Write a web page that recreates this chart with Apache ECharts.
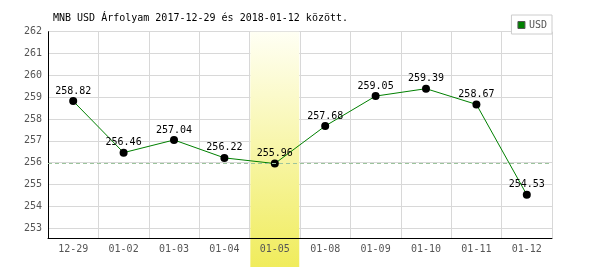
<!DOCTYPE html>
<html><head><meta charset="utf-8">
<script src="https://cdn.jsdelivr.net/npm/echarts@6/dist/echarts.min.js"></script>
<style>html,body{margin:0;padding:0;background:#fff}#c{width:600px;height:270px}</style>
</head><body><div id="c"></div>
<script>
const titleText = 'MNB USD Árfolyam 2017-12-29 és 2018-01-12 között.';
const seriesName = 'USD';
const categories = ['12-29','01-02','01-03','01-04','01-05','01-08','01-09','01-10','01-11','01-12'];
const rates = [258.82, 256.46, 257.04, 256.22, 255.96, 257.68, 259.05, 259.39, 258.67, 254.53];
const highlightDay = '01-05';
const yMin = 252.55, yMax = 262;

const mono = 'DejaVu Sans Mono';
const highlightIdx = categories.indexOf(highlightDay);
const bandData = categories.map(c => c === highlightDay ? 1 : null);

const chart = echarts.init(document.getElementById('c'), null, {renderer:'canvas'});
chart.setOption({
  animation: false,
  backgroundColor: '#fff',
  title: { text: titleText, left: 48, top: 8, textStyle: { fontFamily: mono, fontSize: 10, fontWeight: 'normal', color: '#000' } },
  legend: {
    data: [seriesName], right: 48, top: 15, icon: 'rect', itemWidth: 7, itemHeight: 7, itemGap: 4,
    backgroundColor: '#fff', borderColor: '#ccc', borderWidth: 1, padding: [5, 5, 4, 6],
    itemStyle: { color: '#008000', borderColor: '#555', borderWidth: 1 },
    textStyle: { fontFamily: mono, fontSize: 10, color: '#555', padding: [0,0,0,-1] }
  },
  grid: [
    { left: 48, right: 48, top: 31.7, bottom: 32, containLabel: false },
    { left: 48, right: 48, top: 31.7, bottom: 3, containLabel: false }
  ],
  xAxis: [
    { type: 'category', gridIndex: 0, data: categories, position: 'bottom', z: 0,
      axisLine: { show: false }, axisTick: { show: false }, axisLabel: { show: false },
      splitLine: { show: true, lineStyle: { color: '#d8d8d8', width: 1 } } },
    { type: 'category', gridIndex: 1, data: categories, show: false },
    { type: 'category', gridIndex: 0, data: categories, position: 'bottom', z: 5,
      axisLine: { show: true, lineStyle: { color: '#000', width: 1 } }, axisTick: { show: false },
      axisLabel: { margin: 6, fontFamily: mono, fontSize: 10, color: '#555' },
      splitLine: { show: false } }
  ],
  yAxis: [
    { type: 'value', gridIndex: 0, min: yMin, max: yMax, splitNumber: 9, z: 0,
      axisLine: { show: true, lineStyle: { color: '#000', width: 1 } }, axisTick: { show: false },
      axisLabel: { margin: 6, fontFamily: mono, fontSize: 10, color: '#555', showMinLabel: false },
      splitLine: { show: true, lineStyle: { color: '#d8d8d8', width: 1 } } },
    { type: 'value', gridIndex: 1, min: 0, max: 1, show: false }
  ],
  series: [
    { type: 'line', xAxisIndex: 0, yAxisIndex: 0, data: [], z: 0, silent: true,
      markLine: { silent: true, symbol: ['none','none'], label: { show: false },
        lineStyle: { color: '#9cc49c', type: [4, 3], width: 1 },
        data: [{ yAxis: rates[highlightIdx] }] } },
    { type: 'bar', xAxisIndex: 1, yAxisIndex: 1, data: bandData, barWidth: '97%', z: 1, silent: true,
      itemStyle: { color: new echarts.graphic.LinearGradient(0,0,0,1,[{offset:0,color:'#fffff4'},{offset:1,color:'#f0ec5c'}]) } },
    { name: seriesName, type: 'line', xAxisIndex: 0, yAxisIndex: 0, data: rates, z: 3,
      symbol: 'circle', symbolSize: 8,
      itemStyle: { color: '#000' },
      lineStyle: { color: '#008000', width: 1 },
      label: { show: true, position: 'top', distance: 0, fontFamily: mono, fontSize: 10, color: '#000', lineHeight: 12,
        formatter: p => p.value.toFixed(2) } }
  ]
});
</script></body></html>
